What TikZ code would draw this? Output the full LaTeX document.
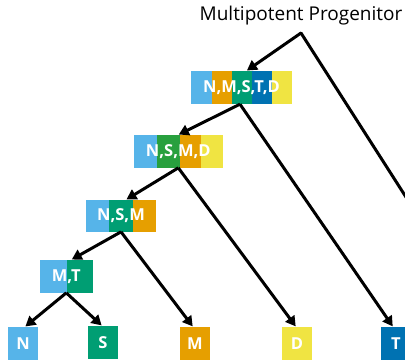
\documentclass[tikz,border=0pt]{standalone}
\usepackage{fontspec}
\setmainfont{Open Sans}
\usetikzlibrary{arrows.meta}
\definecolor{lblue}{HTML}{56B4E9}
\definecolor{orng}{HTML}{E69F00}
\definecolor{teal2}{HTML}{009E73}
\definecolor{dblue}{HTML}{0072B2}
\definecolor{yell}{HTML}{F0E442}
\definecolor{grn}{HTML}{28A03E}
\tikzset{
  lbl/.style={inner sep=0pt, text=white, font=\bfseries\fontsize{16.5}{17}\selectfont},
  conn/.style={line width=3pt, -{Triangle[length=10pt,width=11pt]}, shorten >=0.5pt},
  plain/.style={line width=3pt, line cap=round, line join=round},
}
\newcommand{\seg}[5]{\fill[#5] (#1,#2) rectangle (#3,#4);}
\begin{document}
\begin{tikzpicture}[x=1pt,y=-1pt]
\useasboundingbox (0,0) rectangle (405,361);
\begin{scope}
\clip (0,0) rectangle (405,361);
% box 1
\seg{191}{71}{211.7}{104}{lblue}
\seg{211.7}{71}{231.7}{104}{orng}
\seg{231.7}{71}{251.7}{104}{teal2}
\seg{251.7}{71}{272.3}{104}{dblue}
\seg{272.3}{71}{292}{104}{yell}
\node[lbl, minimum width=101pt, minimum height=33pt] (b1) at (241.5,87.5) {N,M,S,T,D};
% box 2
\seg{134}{135}{156.7}{167.7}{lblue}
\seg{156.7}{135}{180}{167.7}{grn}
\seg{180}{135}{201}{167.7}{orng}
\seg{201}{135}{222.7}{167.7}{yell}
\node[lbl, minimum width=88.7pt, minimum height=32.7pt] (b2) at (178.3,151.3) {N,S,M,D};
% box 3
\seg{86}{200}{109.3}{231.7}{lblue}
\seg{109.3}{200}{132.7}{231.7}{teal2}
\seg{132.7}{200}{156}{231.7}{orng}
\node[lbl, minimum width=70pt, minimum height=31.7pt] (b3) at (121,215.8) {N,S,M};
% box 4
\seg{40}{260}{66.7}{292.7}{lblue}
\seg{66.7}{260}{92.7}{292.7}{teal2}
\node[lbl, minimum width=52.7pt, minimum height=32.7pt] (b4) at (66.3,276.3) {M,T};
% leaves
\seg{8}{327}{38}{360}{lblue}
\node[lbl, minimum width=30pt, minimum height=33pt] (lN) at (23,343.5) {N};
\seg{88}{326}{118}{358.5}{teal2}
\node[lbl, minimum width=30pt, minimum height=32.5pt] (lS) at (103,342.2) {S};
\seg{180}{327}{210}{360}{orng}
\node[lbl, minimum width=30pt, minimum height=33pt] (lM) at (195,343.5) {M};
\seg{282}{327}{312}{360}{yell}
\node[lbl, minimum width=30pt, minimum height=33pt] (lD) at (297,343.5) {D};
\seg{381}{327}{411}{360}{dblue}
\node[lbl, minimum width=30pt, minimum height=33pt] (lT) at (396,343.5) {T};
% title and apex
\node[inner sep=0pt, font=\fontsize{19}{20}\selectfont] (title) at (301,16) {Multipotent Progenitor};
\coordinate (apex) at (301,33);
\coordinate (offR) at (420,219);
% connectors
\draw[plain] (offR) -- (apex);
\draw[conn] (apex) -- ([xshift=5pt]b1.north);
\draw[conn] ([xshift=-1.5pt]b1.south) -- (b2.north);
\draw[conn] ([xshift=-1.5pt]b1.south) -- ([xshift=-3pt]lT.north);
\draw[conn] (b2.south) -- ([xshift=5pt]b3.north);
\draw[conn] (b2.south) -- ([xshift=-1pt]lD.north);
\draw[conn] (b3.south) -- ([xshift=5pt]b4.north);
\draw[conn] (b3.south) -- ([xshift=-2pt]lM.north);
\draw[conn] (b4.south) -- ([xshift=2pt]lN.north);
\draw[conn] (b4.south) -- ([xshift=-1pt]lS.north);
\end{scope}
\end{tikzpicture}
\end{document}
